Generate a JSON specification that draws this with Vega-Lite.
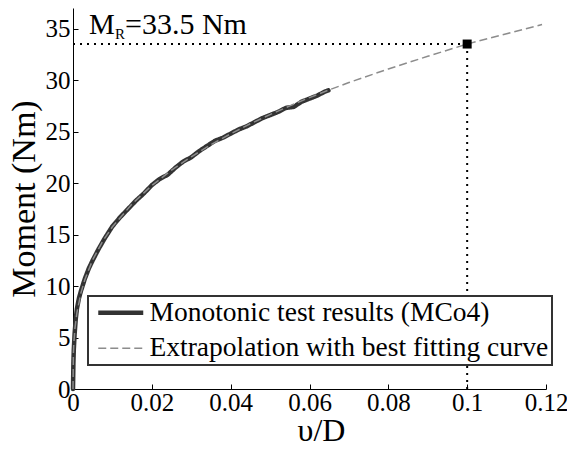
{
  "$schema": "https://vega.github.io/schema/vega-lite/v6.json",
  "width": 473,
  "height": 381,
  "autosize": {"type": "none"},
  "padding": {"left": 73, "top": 8, "right": 21, "bottom": 60},
  "background": "white",
  "config": {
    "font": "Liberation Serif",
    "view": {"stroke": null},
    "style": {"guide-label": {"font": "Liberation Serif", "fontSize": 25, "fill": "black"}},
    "axis": {
      "grid": false,
      "domainColor": "black",
      "domainWidth": 1,
      "tickColor": "black",
      "tickSize": -5,
      "labelFont": "Liberation Serif",
      "labelFontSize": 25,
      "labelColor": "black",
      "labelFlush": false,
      "labelOverlap": false,
      "titleFont": "Liberation Serif",
      "titleFontSize": 34,
      "titleFontWeight": "normal",
      "titleColor": "black"
    },
    "legend": {
      "labelFont": "Liberation Serif",
      "labelFontSize": 27.5,
      "labelColor": "black",
      "strokeColor": "#333333",
      "strokeWidth": 2,
      "fillColor": "white"
    }
  },
  "datasets": {
    "test": [
      {"d": 0, "m": 0, "s": "Monotonic test results (MCo4)"},
      {"d": 0.0001, "m": 2.5, "s": "Monotonic test results (MCo4)"},
      {"d": 0.0002, "m": 3.8, "s": "Monotonic test results (MCo4)"},
      {"d": 0.0004, "m": 5.3, "s": "Monotonic test results (MCo4)"},
      {"d": 0.0007, "m": 6.8, "s": "Monotonic test results (MCo4)"},
      {"d": 0.001, "m": 7.8, "s": "Monotonic test results (MCo4)"},
      {"d": 0.0015, "m": 8.8, "s": "Monotonic test results (MCo4)"},
      {"d": 0.002, "m": 9.5, "s": "Monotonic test results (MCo4)"},
      {"d": 0.003, "m": 10.7, "s": "Monotonic test results (MCo4)"},
      {"d": 0.004, "m": 11.7, "s": "Monotonic test results (MCo4)"},
      {"d": 0.005, "m": 12.5, "s": "Monotonic test results (MCo4)"},
      {"d": 0.0065, "m": 13.6, "s": "Monotonic test results (MCo4)"},
      {"d": 0.008, "m": 14.6, "s": "Monotonic test results (MCo4)"},
      {"d": 0.01, "m": 15.8, "s": "Monotonic test results (MCo4)"},
      {"d": 0.012, "m": 16.7, "s": "Monotonic test results (MCo4)"},
      {"d": 0.014, "m": 17.5, "s": "Monotonic test results (MCo4)"},
      {"d": 0.016, "m": 18.3, "s": "Monotonic test results (MCo4)"},
      {"d": 0.018, "m": 19.0, "s": "Monotonic test results (MCo4)"},
      {"d": 0.02, "m": 19.8, "s": "Monotonic test results (MCo4)"},
      {"d": 0.022, "m": 20.4, "s": "Monotonic test results (MCo4)"},
      {"d": 0.024, "m": 20.8, "s": "Monotonic test results (MCo4)"},
      {"d": 0.026, "m": 21.5, "s": "Monotonic test results (MCo4)"},
      {"d": 0.028, "m": 22.1, "s": "Monotonic test results (MCo4)"},
      {"d": 0.03, "m": 22.5, "s": "Monotonic test results (MCo4)"},
      {"d": 0.032, "m": 23.1, "s": "Monotonic test results (MCo4)"},
      {"d": 0.034, "m": 23.6, "s": "Monotonic test results (MCo4)"},
      {"d": 0.036, "m": 24.1, "s": "Monotonic test results (MCo4)"},
      {"d": 0.038, "m": 24.4, "s": "Monotonic test results (MCo4)"},
      {"d": 0.04, "m": 24.8, "s": "Monotonic test results (MCo4)"},
      {"d": 0.042, "m": 25.2, "s": "Monotonic test results (MCo4)"},
      {"d": 0.044, "m": 25.5, "s": "Monotonic test results (MCo4)"},
      {"d": 0.046, "m": 25.9, "s": "Monotonic test results (MCo4)"},
      {"d": 0.048, "m": 26.3, "s": "Monotonic test results (MCo4)"},
      {"d": 0.05, "m": 26.6, "s": "Monotonic test results (MCo4)"},
      {"d": 0.052, "m": 26.9, "s": "Monotonic test results (MCo4)"},
      {"d": 0.054, "m": 27.3, "s": "Monotonic test results (MCo4)"},
      {"d": 0.056, "m": 27.4, "s": "Monotonic test results (MCo4)"},
      {"d": 0.058, "m": 27.9, "s": "Monotonic test results (MCo4)"},
      {"d": 0.06, "m": 28.2, "s": "Monotonic test results (MCo4)"},
      {"d": 0.062, "m": 28.5, "s": "Monotonic test results (MCo4)"},
      {"d": 0.064, "m": 28.9, "s": "Monotonic test results (MCo4)"},
      {"d": 0.0648, "m": 29.0, "s": "Monotonic test results (MCo4)"}
    ],
    "fit": [
      {"d": 0, "m": 0, "s": "Extrapolation with best fitting curve"},
      {"d": 0.0001, "m": 3.49, "s": "Extrapolation with best fitting curve"},
      {"d": 0.0002, "m": 4.38, "s": "Extrapolation with best fitting curve"},
      {"d": 0.0005, "m": 5.91, "s": "Extrapolation with best fitting curve"},
      {"d": 0.001, "m": 7.42, "s": "Extrapolation with best fitting curve"},
      {"d": 0.002, "m": 9.31, "s": "Extrapolation with best fitting curve"},
      {"d": 0.003, "m": 10.62, "s": "Extrapolation with best fitting curve"},
      {"d": 0.005, "m": 12.55, "s": "Extrapolation with best fitting curve"},
      {"d": 0.0075, "m": 14.33, "s": "Extrapolation with best fitting curve"},
      {"d": 0.01, "m": 15.75, "s": "Extrapolation with best fitting curve"},
      {"d": 0.015, "m": 17.98, "s": "Extrapolation with best fitting curve"},
      {"d": 0.02, "m": 19.76, "s": "Extrapolation with best fitting curve"},
      {"d": 0.025, "m": 21.25, "s": "Extrapolation with best fitting curve"},
      {"d": 0.03, "m": 22.55, "s": "Extrapolation with best fitting curve"},
      {"d": 0.035, "m": 23.73, "s": "Extrapolation with best fitting curve"},
      {"d": 0.04, "m": 24.78, "s": "Extrapolation with best fitting curve"},
      {"d": 0.045, "m": 25.76, "s": "Extrapolation with best fitting curve"},
      {"d": 0.05, "m": 26.65, "s": "Extrapolation with best fitting curve"},
      {"d": 0.055, "m": 27.5, "s": "Extrapolation with best fitting curve"},
      {"d": 0.06, "m": 28.3, "s": "Extrapolation with best fitting curve"},
      {"d": 0.065, "m": 29.05, "s": "Extrapolation with best fitting curve"},
      {"d": 0.07, "m": 29.76, "s": "Extrapolation with best fitting curve"},
      {"d": 0.08, "m": 31.08, "s": "Extrapolation with best fitting curve"},
      {"d": 0.09, "m": 32.31, "s": "Extrapolation with best fitting curve"},
      {"d": 0.1, "m": 33.5, "s": "Extrapolation with best fitting curve"},
      {"d": 0.11, "m": 34.5, "s": "Extrapolation with best fitting curve"},
      {"d": 0.119, "m": 35.4, "s": "Extrapolation with best fitting curve"}
    ]
  },
  "encoding": {
    "x": {
      "type": "quantitative",
      "scale": {"domain": [0, 0.12], "nice": false, "zero": false},
      "axis": {"title": "υ/D", "values": [0, 0.02, 0.04, 0.06, 0.08, 0.1, 0.12], "format": ".2~f",
        "labelFont": "Liberation Serif", "labelFontSize": 25, "labelColor": "black", "labelFlush": false, "labelOverlap": false,
        "labelPadding": 6, "titlePadding": 0, "titleFontSize": 32, "titleX": 248}
    },
    "y": {
      "type": "quantitative",
      "scale": {"domain": [0, 37], "nice": false, "zero": false},
      "axis": {"title": "Moment (Nm)", "values": [0, 5, 10, 15, 20, 25, 30, 35],
        "labelFont": "Liberation Serif", "labelFontSize": 25, "labelColor": "black", "labelFlush": false, "labelOverlap": false,
        "labelPadding": 8, "titlePadding": 4}
    }
  },
  "layer": [
    {
      "data": {"name": "test"},
      "mark": {"type": "line", "strokeCap": "round", "strokeJoin": "round"},
      "encoding": {
        "x": {"field": "d", "type": "quantitative"},
        "y": {"field": "m", "type": "quantitative"},
        "color": {"field": "s", "type": "nominal", "title": null,
          "scale": {"domain": ["Monotonic test results (MCo4)", "Extrapolation with best fitting curve"], "range": ["#333333", "#8c8c8c"]},
          "legend": {
            "orient": "none", "legendX": 15, "legendY": 288, "direction": "vertical",
            "labelFont": "Liberation Serif", "labelFontSize": 27.5, "labelColor": "black", "labelLimit": 0,
            "symbolType": "M-2.25,0H2.25", "symbolSize": 400, "symbolOffset": 16, "labelOffset": 15,
            "padding": 3, "rowPadding": 6.5
          }},
        "strokeWidth": {"field": "s", "type": "nominal", "title": null,
          "scale": {"domain": ["Monotonic test results (MCo4)", "Extrapolation with best fitting curve"], "range": [4.5, 1.5]}},
        "strokeDash": {"field": "s", "type": "nominal", "title": null,
          "scale": {"domain": ["Monotonic test results (MCo4)", "Extrapolation with best fitting curve"], "range": [[1, 0], [8, 4]]}}
      }
    },
    {
      "data": {"name": "fit"},
      "mark": {"type": "line"},
      "encoding": {
        "x": {"field": "d", "type": "quantitative"},
        "y": {"field": "m", "type": "quantitative"},
        "color": {"field": "s", "type": "nominal", "title": null},
        "strokeWidth": {"field": "s", "type": "nominal", "title": null},
        "strokeDash": {"field": "s", "type": "nominal", "title": null}
      }
    },
    {
      "data": {"values": [{}]},
      "mark": {"type": "rule", "color": "black", "strokeWidth": 2, "strokeDash": [2, 5]},
      "encoding": {"x": {"datum": 0}, "x2": {"datum": 0.1}, "y": {"datum": 33.5}}
    },
    {
      "data": {"values": [{}]},
      "mark": {"type": "rule", "color": "black", "strokeWidth": 2, "strokeDash": [2, 5]},
      "encoding": {"x": {"datum": 0.1}, "y": {"datum": 0}, "y2": {"datum": 33.5}}
    },
    {
      "data": {"values": [{}]},
      "mark": {"type": "point", "shape": "square", "filled": true, "color": "black", "size": 81, "opacity": 1},
      "encoding": {"x": {"datum": 0.1}, "y": {"datum": 33.5}}
    },
    {
      "data": {"values": [{}]},
      "mark": {"type": "text", "text": "M", "font": "Liberation Serif", "fontSize": 29, "align": "left", "baseline": "alphabetic", "dx": 16, "dy": -10, "color": "black"},
      "encoding": {"x": {"datum": 0}, "y": {"datum": 33.5}}
    },
    {
      "data": {"values": [{}]},
      "mark": {"type": "text", "text": "R", "font": "Liberation Serif", "fontSize": 15, "align": "left", "baseline": "alphabetic", "dx": 42, "dy": -5, "color": "black"},
      "encoding": {"x": {"datum": 0}, "y": {"datum": 33.5}}
    },
    {
      "data": {"values": [{}]},
      "mark": {"type": "text", "text": "=33.5 Nm", "font": "Liberation Serif", "fontSize": 30, "align": "left", "baseline": "alphabetic", "dx": 52, "dy": -10, "color": "black"},
      "encoding": {"x": {"datum": 0}, "y": {"datum": 33.5}}
    }
  ]
}
